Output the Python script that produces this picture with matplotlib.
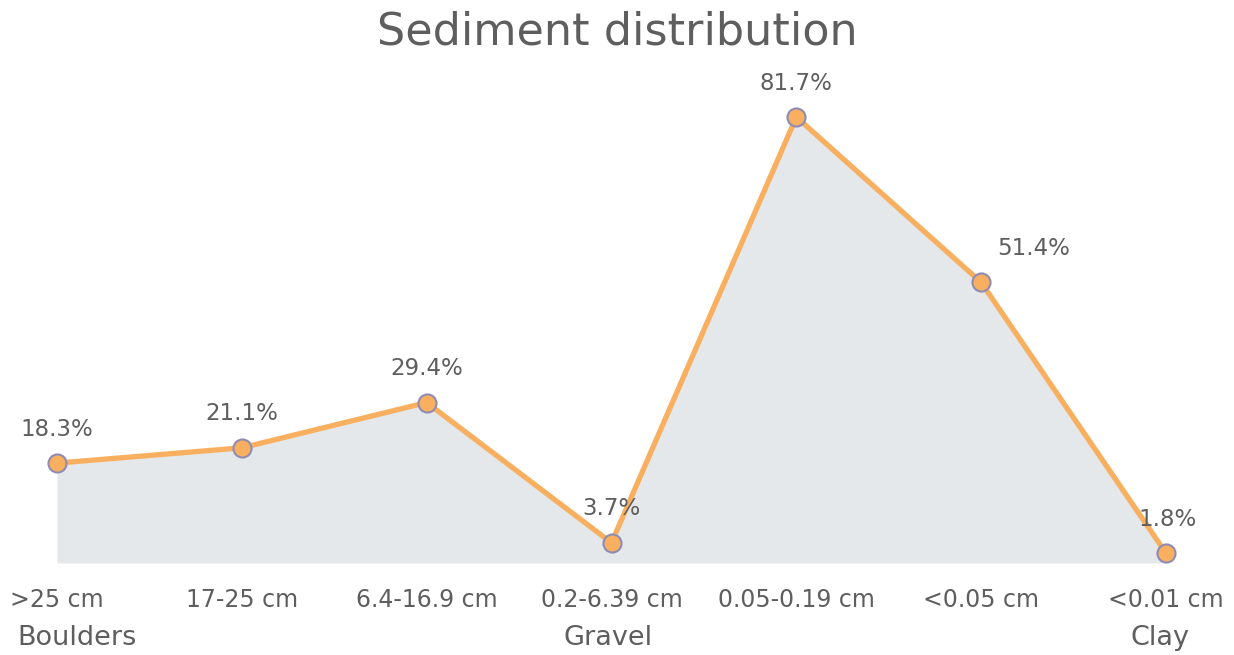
import matplotlib
matplotlib.use("Agg")
import matplotlib.pyplot as plt

categories = [">25 cm", "17-25 cm", "6.4-16.9 cm", "0.2-6.39 cm", "0.05-0.19 cm", "<0.05 cm", "<0.01 cm"]
values = [18.3, 21.1, 29.4, 3.7, 81.7, 51.4, 1.8]
groups = ["Boulders", "Gravel", "Clay"]
group_pos = [0.11, 2.98, 5.97]

W, H = 1234, 655
fig = plt.figure(figsize=(W / 100, H / 100), dpi=100)
left, right = 57 / W, 1166 / W
bottom, top = (H - 563) / H, (H - 117) / H
ax = fig.add_axes([left, bottom, right - left, top - bottom])
ax.set_xlim(0, len(values) - 1)
ax.set_ylim(0, max(values))
ax.axis("off")

font = "DejaVu Sans"
tc = "#5E5E5E"
x = list(range(len(values)))
ax.fill_between(x, values, 0, color="#E5E8EB", lw=0, zorder=1)
ax.plot(x, values, color="#F8B060", lw=3.8, zorder=2, clip_on=False,
        solid_joinstyle="miter")
ax.plot(x, values, ls="none", marker="o", ms=13, mfc="#F8B060", mec="#8F8BB3",
        mew=1.5, zorder=3, clip_on=False)

for i, v in enumerate(values):
    dx = 52 if i == 5 else (2 if i == 6 else 0)
    ax.annotate(f"{v}%", (i, v), xytext=(dx, 34), textcoords="offset pixels",
                ha="center", va="center", fontsize=16.5, color=tc, family=font)

for i, c in enumerate(categories):
    ax.annotate(c, (i, 0), xytext=(0, -37), textcoords="offset pixels",
                xycoords="data", ha="center", va="center", fontsize=17,
                color=tc, family=font, annotation_clip=False)

for g, p in zip(groups, group_pos):
    ax.annotate(g, (p, 0), xytext=(0, -75), textcoords="offset pixels",
                ha="center", va="center", fontsize=19.5, color=tc, family=font,
                annotation_clip=False)

fig.text(0.5, 1 - 32 / H, "Sediment distribution", ha="center", va="center",
         fontsize=32, color=tc, family=font)

fig.savefig("out.png", dpi=100)
